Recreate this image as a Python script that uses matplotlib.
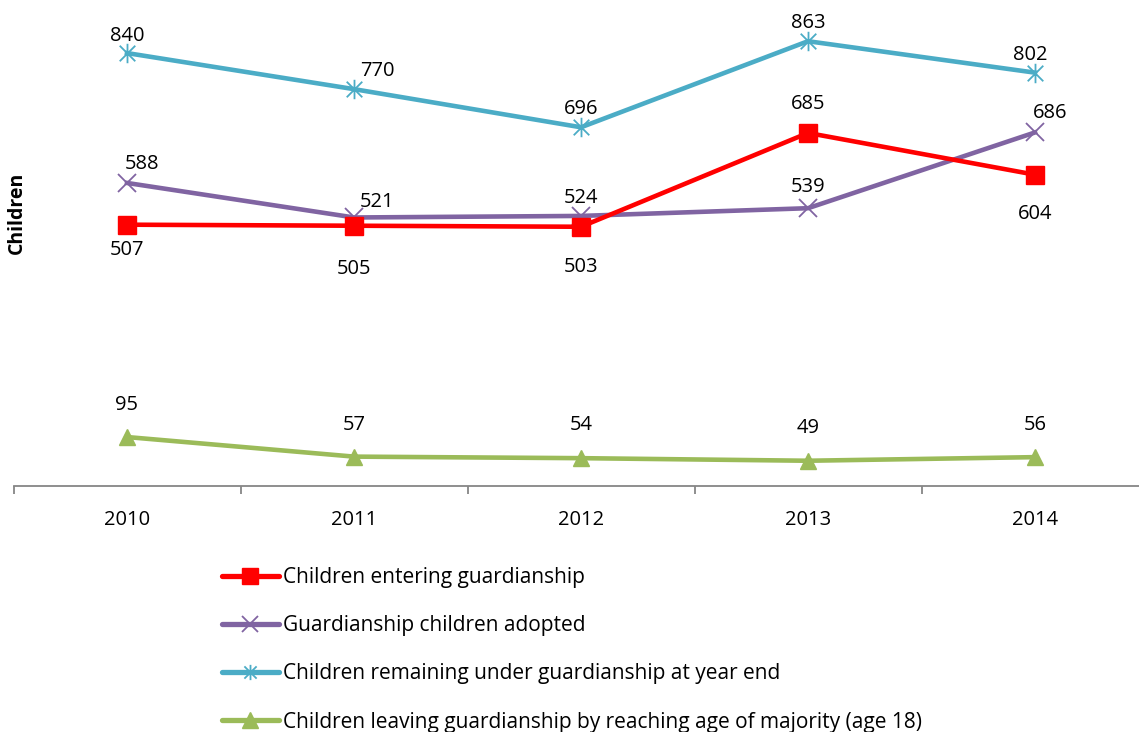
import numpy as np
import matplotlib.pyplot as plt
from matplotlib.path import Path

plt.rcParams['font.family'] = ['Open Sans', 'DejaVu Sans']

years = ['2010', '2011', '2012', '2013', '2014']
entering = [507, 505, 503, 685, 604]
adopted = [588, 521, 524, 539, 686]
remaining = [840, 770, 696, 863, 802]
leaving = [95, 57, 54, 49, 56]

names = ['Children entering guardianship',
         'Guardianship children adopted',
         'Children remaining under guardianship at year end',
         'Children leaving guardianship by reaching age of majority (age 18)']

# excel-style star marker: X plus vertical bar
star = Path([(-1, -1), (1, 1), (-1, 1), (1, -1), (0, -1.25), (0, 1.25)],
            [Path.MOVETO, Path.LINETO, Path.MOVETO, Path.LINETO, Path.MOVETO, Path.LINETO])

W, H = 1139, 732
fig = plt.figure(figsize=(W / 100, H / 100), dpi=100)
ax = fig.add_axes([13.5 / W, (H - 486) / H, 1135 / W, 486 / H])

x = np.arange(len(years))
ax.plot(x, remaining, color='#4BACC6', lw=3.3, marker=star, ms=14, mew=1.3, zorder=3)
ax.plot(x, adopted, color='#8064A2', lw=3.3, marker='x', ms=13, mew=1.3, zorder=3)
ax.plot(x, entering, color='#FF0000', lw=3.3, marker='s', ms=13, zorder=4)
ax.plot(x, leaving, color='#9BBB59', lw=3.3, marker='^', ms=12, zorder=3)

ax.set_xlim(-0.5, 4.5)
ax.set_ylim(0, 486 / 0.5154)

for s in ['top', 'right', 'left']:
    ax.spines[s].set_visible(False)
ax.spines['bottom'].set_color('#868686')
ax.spines['bottom'].set_linewidth(1.3)
ax.set_yticks([])
ax.set_xticks(x)
ax.set_xticklabels(years, fontsize=14.5)
ax.set_xticks(np.arange(-0.5, 5, 1), minor=True)
ax.tick_params(axis='x', which='major', length=0, pad=17)
ax.tick_params(axis='x', which='minor', length=6, color='#868686', width=1.3)

fig.text(17 / W, 1 - 213 / H, 'Children', rotation=90, fontsize=14, fontweight='bold',
         ha='center', va='center')

def lab(vals, offs):
    for i, (v, o) in enumerate(zip(vals, offs)):
        ax.annotate(str(v), (i, v), xytext=(o[0], o[1] - 3), textcoords='offset pixels',
                    ha='center', va='center', fontsize=14.5)

lab(remaining, [(0, 20), (23, 21), (0, 21), (0, 21), (-5, 21)])
lab(entering, [(0, -22), (0, -40), (0, -37), (0, 32), (0, -36)])
lab(adopted, [(15, 22), (23, 18), (0, 21), (0, 24), (15, 22)])
lab(leaving, [(0, 35), (0, 35), (0, 36), (0, 36), (0, 35)])

handles = [plt.Line2D([], [], color='#FF0000', lw=3.8, marker='s', ms=11, solid_capstyle='round'),
           plt.Line2D([], [], color='#8064A2', lw=3.8, marker='x', ms=11, mew=1.3, solid_capstyle='round'),
           plt.Line2D([], [], color='#4BACC6', lw=3.8, marker=star, ms=11, mew=1.3, solid_capstyle='round'),
           plt.Line2D([], [], color='#9BBB59', lw=3.8, marker='^', ms=11, solid_capstyle='round')]
fig.legend(handles, names, loc='upper left', bbox_to_anchor=(214 / W, 1 - 559 / H),
           frameon=False, fontsize=15, handlelength=2.7, handletextpad=0.2,
           labelspacing=1.3, borderaxespad=0)

fig.savefig('out.png', dpi=100)
